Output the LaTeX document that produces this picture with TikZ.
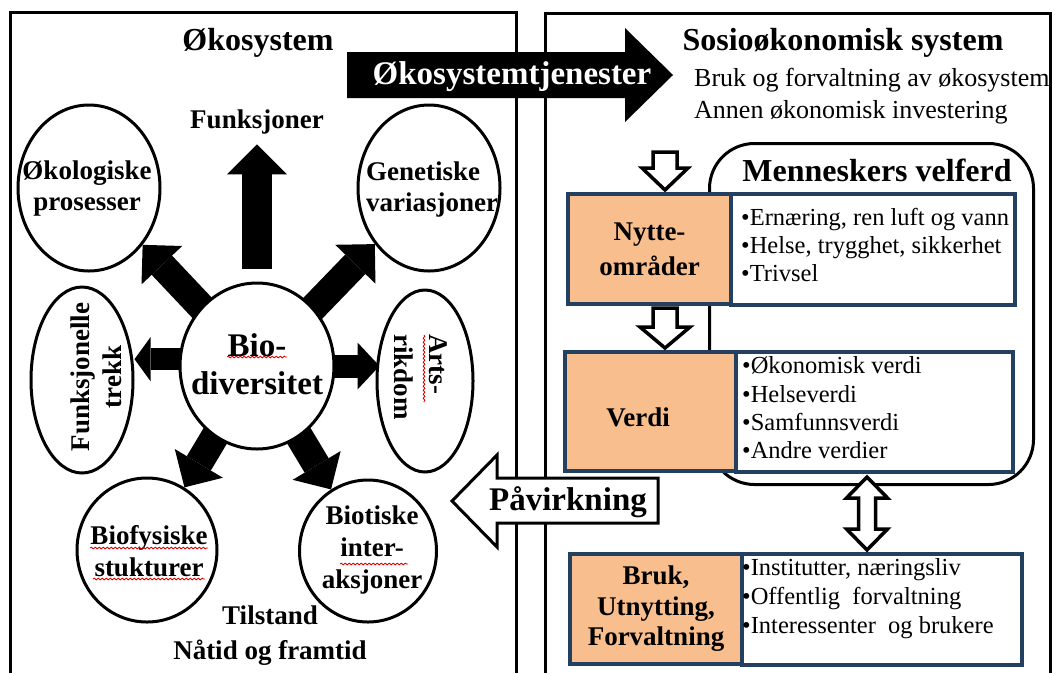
\documentclass[tikz,border=0pt]{standalone}
\usepackage{fontspec}
\setmainfont{Liberation Serif}
\usetikzlibrary{shapes.geometric,arrows.meta,decorations.pathmorphing}
\pgfdeclarelayer{bg}
\pgfsetlayers{bg,main}
\definecolor{boxorange}{RGB}{248,190,142}
\definecolor{boxnavy}{RGB}{36,64,97}
\newcommand\setfs[2]{\fontsize{#1pt}{#2pt}\selectfont}
\begin{document}
\begin{tikzpicture}[x=1pt,y=-1pt,
  frame/.style={line width=3pt},
  oval/.style={ellipse, draw, line width=3pt, fill=white, inner sep=0pt},
  ttl/.style={inner sep=0pt, font=\bfseries\setfs{32}{36}},
  etxt/.style={inner sep=0pt, align=center, font=\bfseries\setfs{27}{31}},
  btxt/.style={inner sep=0pt, align=left, font=\setfs{24.5}{28.4}},
  obox/.style={draw=boxnavy, fill=boxorange, line width=4pt, inner sep=0pt, align=center, font=\bfseries\setfs{27}{35}},
  wbox/.style={draw=boxnavy, fill=white, line width=4pt, inner sep=0pt},
  hol/.style={draw, fill=white, line width=3.5pt, line join=miter},
  barD/.style={line width=28pt, -{Triangle[width=56pt,length=28pt,line width=0pt]}},
  barL/.style={line width=22pt, -{Triangle[width=44pt,length=16pt,line width=0pt]}},
  barR/.style={line width=23pt, -{Triangle[width=47pt,length=22pt,line width=0pt]}},
  barU/.style={line width=30pt, -{Triangle[width=60pt,length=30pt,line width=0pt]}},
  spell/.style={draw=red!85!black, line width=0.8pt, decorate, decoration={snake, amplitude=0.9pt, segment length=4pt}}
]
\useasboundingbox (0,0) rectangle (1059,673);

% frames
\draw[frame] (10,673) -- (10,12) -- (516,12) -- (516,673);
\draw[frame] (545,673) -- (545,13) -- (1050,13) -- (1050,673);

% titles
\node[ttl] (t-eco) at (258,43) {Økosystem};
\node[ttl] (t-sos) at (843,43) {Sosioøkonomisk system};
\node[inner sep=0pt, anchor=west, align=left, font=\setfs{26}{32}] (t-bruk) at (694,96)
  {Bruk og forvaltning av økosystem\\Annen økonomisk investering};

% Økosystemtjenester arrow
\fill (347,52) -- (625,52) -- (625,28) -- (673,75) -- (625,122) -- (625,98) -- (347,98) -- cycle;
\node[inner sep=0pt, text=white, font=\bfseries\setfs{33}{36}] (t-ets) at (512,77) {Økosystemtjenester};

% ecosystem nodes
\node[oval, minimum width=142pt, minimum height=166pt] (eko) at (89,188) {};
\node[oval, minimum width=142pt, minimum height=166pt] (gen) at (429,188) {};
\node[oval, minimum width=102pt, minimum height=186pt] (fun) at (82,380) {};
\node[oval, minimum width=96pt, minimum height=182pt] (art) at (425,381) {};
\node[oval, minimum width=154pt, minimum height=166pt] (bio) at (257,366) {};
\node[oval, minimum width=140pt, minimum height=144pt] (bfy) at (147,550) {};
\node[oval, minimum width=137pt, minimum height=142pt] (bti) at (368,551) {};

\node[etxt] (eko-t) at (87,188) {Økologiske\\prosesser};
\node[etxt, align=left] (gen-t) at (432,189) {Genetiske\\variasjoner};
\node[etxt, rotate=90, font=\bfseries\setfs{27}{32}] (fun-t) at (96,377) {Funksjonelle\\trekk};
\node[etxt, rotate=-90, align=left, anchor=west, font=\bfseries\setfs{27}{35}] (art-t) at (421,334) {Arts-\\rikdom};
\node[etxt, font=\bfseries\setfs{33}{38}] (bio-t) at (257,364) {Bio-\\diversitet};
\node[etxt, font=\bfseries\setfs{27}{32}] (bfy-t) at (149,551) {Biofysiske\\stukturer};
\node[etxt, font=\bfseries\setfs{27}{32}] (bti-t) at (372,550) {Biotiske\\inter-\\aksjoner};
\node[etxt] (fj) at (257,122) {Funksjoner};
\node[etxt, font=\bfseries\setfs{27}{35}] (til) at (270,636) {Tilstand\\Nåtid og framtid};

% spelling marks
\draw[spell] (227,357) -- (287,357);
\draw[spell] (90,548) -- (208,548);
\draw[spell] (93,579) -- (205,579);
\draw[spell] (340,564) -- (408,564);
\draw[spell] (424,335) -- (424,402);

\begin{pgfonlayer}{bg}
\draw[barD] (bio.center) -- (eko);
\draw[barD] (bio.center) -- (gen);
\draw[barD] (bio.center) -- (bfy);
\draw[barD] (bio.center) -- (bti);
\draw[barL] (bio.center |- bio.175) -- (fun.east |- bio.175);
\draw[barR] (bio.center) -- ([xshift=4pt]bio.center -| art.west);
\draw[barU] ([yshift=13pt]bio.north) -- ([yshift=-10pt]fj.south);
\end{pgfonlayer}

% Menneskers velferd
\node[draw, line width=3pt, rounded corners=45pt, minimum width=324pt, minimum height=341pt, anchor=north west, inner sep=0pt] (mv) at (708,142) {};
\node[ttl] (mv-t) at (877,170) {Menneskers velferd};

% boxes
\node[obox, minimum width=163pt, minimum height=110pt, anchor=north west] (nyt) at (566,192) {Nytte-\\områder};
\node[wbox, minimum width=284pt, minimum height=111pt, anchor=north west] (nyt-w) at (729,192) {};
\node[btxt, anchor=west] (nyt-b) at (741,245) {•Ernæring, ren luft og vann\\•Helse, trygghet, sikkerhet\\•Trivsel};

\node[obox, minimum width=171pt, minimum height=119pt, anchor=north west] (ver) at (563,350) {};
\node[inner sep=0pt, font=\bfseries\setfs{27}{35}] (ver-t) at (638,417) {Verdi};
\node[wbox, minimum width=277pt, minimum height=120pt, anchor=north west] (ver-w) at (734,350) {};
\node[btxt, anchor=west] (ver-b) at (742,408) {•Økonomisk verdi\\•Helseverdi\\•Samfunnsverdi\\•Andre verdier};

\node[obox, minimum width=172pt, minimum height=110pt, anchor=north west, font=\bfseries\setfs{27}{30.5}] (bru) at (568,552) {Bruk,\\Utnytting,\\Forvaltning};
\node[wbox, minimum width=280pt, minimum height=111pt, anchor=north west] (bru-w) at (740,552) {};
\node[btxt, anchor=west, font=\setfs{24.5}{29}] (bru-b) at (742,599) {•Institutter, næringsliv\\•Offentlig\ \ forvaltning\\•Interessenter\ \ og brukere};

% hollow arrows
\draw[hol] (653,152) -- (677,152) -- (677,168) -- (688,168) -- (665,190) -- (642,168) -- (653,168) -- cycle;
\draw[hol] (653,308) -- (677,308) -- (677,327) -- (690,327) -- (665,348) -- (640,327) -- (653,327) -- cycle;
\draw[hol] (867,477) -- (887.5,498) -- (875.5,498) -- (875.5,529) -- (887.5,529) -- (867,550) -- (846.5,529) -- (858.5,529) -- (858.5,498) -- (846.5,498) -- cycle;

% Påvirkning
\draw[hol, line width=3pt] (452,501) -- (497,455) -- (497,478) -- (658,478) -- (658,523) -- (497,523) -- (497,547) -- cycle;
\node[inner sep=0pt, font=\bfseries\setfs{33}{36}] (t-pav) at (568,502) {Påvirkning};
\end{tikzpicture}
\end{document}
